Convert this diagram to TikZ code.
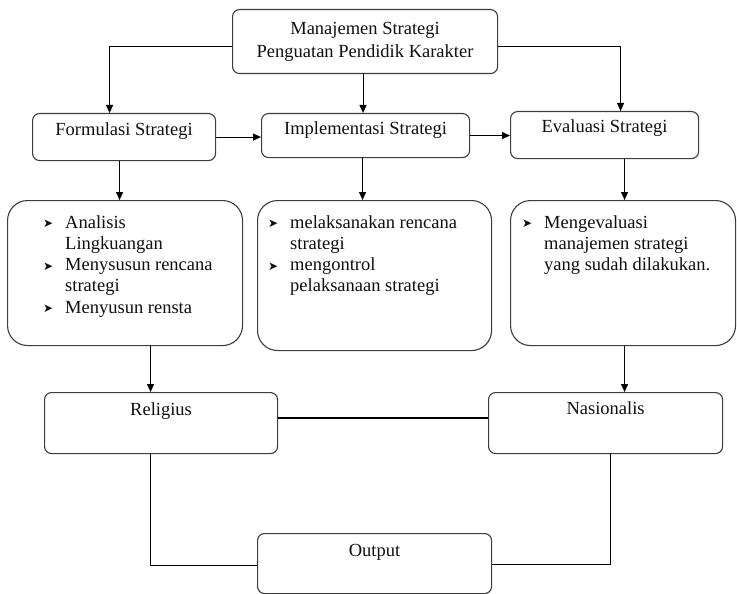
\documentclass[tikz,border=0pt]{standalone}
\usepackage{fontspec}
\setmainfont{Liberation Serif}
\newfontfamily\bulfont{DejaVu Sans}
\usetikzlibrary{arrows.meta}
\definecolor{boxc}{RGB}{60,60,60}
\definecolor{txt}{RGB}{15,15,15}
\newcommand\myfs{\fontsize{18.5}{21.3}\selectfont}
\newcommand\bul{\makebox[22pt][l]{\raisebox{0.5pt}{\bulfont\fontsize{12}{12}\selectfont ➤}}}
\newcommand\ind{\hspace*{22pt}}
\begin{document}
\begin{tikzpicture}[x=1pt,y=-1pt,
  box/.style={draw=boxc, line width=1.1pt, rounded corners=7pt, inner sep=0pt, anchor=north west, font=\myfs, text=txt},
  bigbox/.style={box, rounded corners=20pt},
  conn/.style={draw=black, line width=1.1pt},
  arr/.style={conn, -{Triangle[length=8pt,width=7pt]}},
  lst/.style={anchor=base west, inner sep=0pt, font=\myfs, text=txt}]
\useasboundingbox (0,0) rectangle (737,594);

% boxes
\node[box, minimum width=265pt, minimum height=64pt, align=center, font=\fontsize{18.5}{23}\selectfont] (T) at (232,9) {Manajemen Strategi\\Penguatan Pendidik Karakter};
\node[box, minimum width=183pt, text height=22pt, text depth=25pt] (F) at (32,113) {Formulasi Strategi};
\node[box, minimum width=208pt, text height=21pt, text depth=23pt] (I) at (261,113) {Implementasi Strategi};
\node[box, minimum width=188pt, text height=21pt, text depth=26pt] (E) at (510,111) {Evaluasi Strategi};

\node[bigbox, minimum width=235pt, minimum height=145pt] (L) at (7,200) {};
\node[bigbox, minimum width=234pt, minimum height=150pt] (M) at (257,200) {};
\node[bigbox, minimum width=225pt, minimum height=145pt] (Rl) at (510,200) {};

\node[lst] (Lt) at (43,228) {\begin{tabular}[t]{@{}l@{}}\bul Analisis\\ \ind Lingkuangan\\ \bul Menysusun rencana\\ \ind strategi\\ \bul Menyusun rensta\end{tabular}};
\node[lst] (Mt) at (268,228) {\begin{tabular}[t]{@{}l@{}}\bul melaksanakan rencana\\ \ind strategi\\ \bul mengontrol\\ \ind pelaksanaan strategi\end{tabular}};
\node[lst] (Rt) at (522,228) {\begin{tabular}[t]{@{}l@{}}\bul Mengevaluasi\\ \ind manajemen strategi\\ \ind yang sudah dilakukan.\end{tabular}};

\node[box, minimum width=233pt, text height=23pt, text depth=38pt] (Rel) at (44,392) {Religius};
\node[box, minimum width=234pt, text height=22pt, text depth=39pt] (Nas) at (488,392) {Nasionalis};
\node[box, minimum width=234pt, text height=23pt, text depth=37pt] (Out) at (257,533) {Output};

% connectors
\draw[arr] ([yshift=-5pt]T.west) -| ([xshift=-14.5pt]F.north);
\draw[arr] ([yshift=-5pt]T.east) -| ([xshift=16pt]E.north);
\draw[arr] ([xshift=-2pt]T.south) -- ([xshift=-2pt]T.south |- I.north);
\draw[arr] (F.east) -- (F.east -| I.west);
\draw[arr] (I.east) -- (I.east -| E.west);
\draw[arr] ([xshift=-4.5pt]F.south) -- ([xshift=-4.5pt]F.south |- L.north);
\draw[arr] ([xshift=-3pt]I.south) -- ([xshift=-3pt]I.south |- M.north);
\draw[arr] ([xshift=20pt]E.south) -- ([xshift=20pt]E.south |- Rl.north);
\draw[arr] ([xshift=25.5pt]L.south) -- ([xshift=25.5pt]L.south |- Rel.north);
\draw[arr] ([xshift=1.5pt]Rl.south) -- ([xshift=1.5pt]Rl.south |- Nas.north);
\draw[conn, line width=2pt] ([yshift=5.5pt]Rel.east) -- ([yshift=5.5pt]Rel.east -| Nas.west);
\draw[conn] ([xshift=-10.5pt]Rel.south) |- ([yshift=-2pt]Out.west);
\draw[conn] ([xshift=5pt]Nas.south) |- ([yshift=-1pt]Out.east);
\end{tikzpicture}
\end{document}
